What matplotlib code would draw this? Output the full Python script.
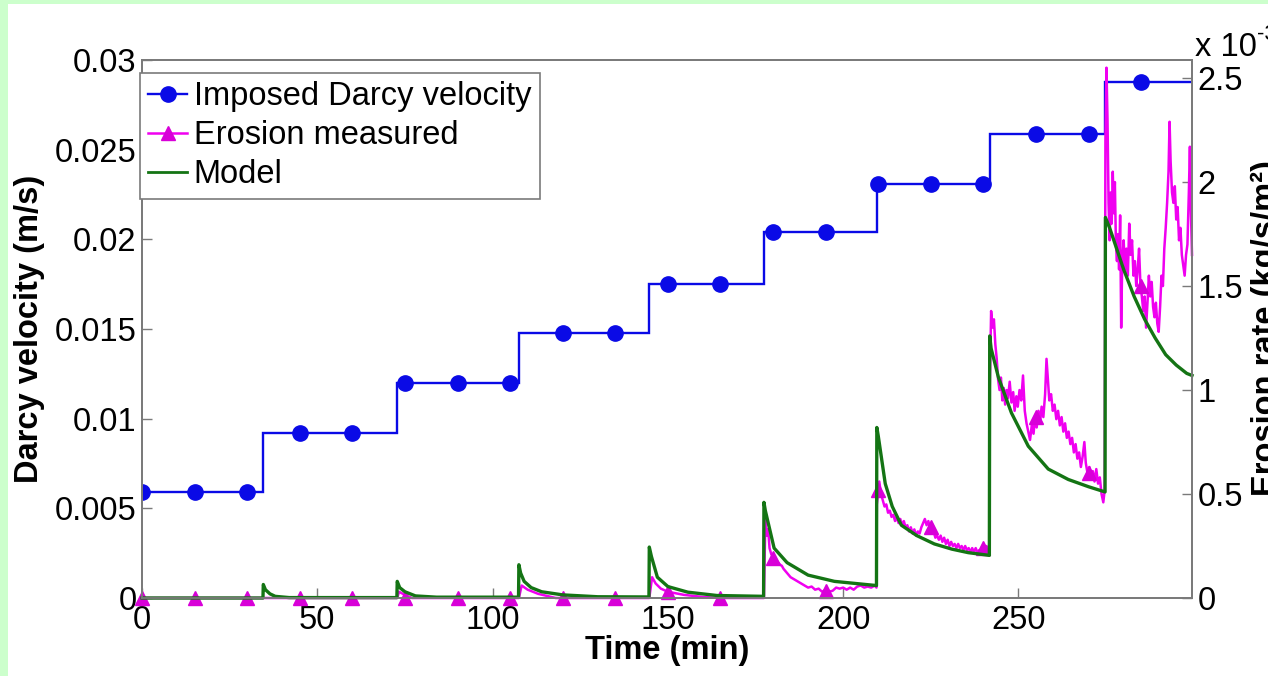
import matplotlib
matplotlib.use("Agg")
import matplotlib.pyplot as plt
from matplotlib.patches import Rectangle
from matplotlib.lines import Line2D

# ---------------- data ----------------
# imposed Darcy velocity: step start times (min) and plateau levels (m/s)
vel_step_t = [0, 34.6, 72.8, 107.5, 144.7, 177.4, 209.6, 241.8, 274.8]
vel_end_t = 299.5
vel_levels = [0.0059, 0.0092, 0.0120, 0.0148, 0.0175, 0.0204, 0.0231, 0.0259, 0.0288]

# marker times (every 15 min)
marker_t = [0, 15, 30, 45, 60, 75, 90, 105, 120, 135, 150, 165, 180, 195,
            210, 225, 240, 255, 270, 285]
vel_marker_v = [0.0059, 0.0059, 0.0059, 0.0092, 0.0092, 0.0120, 0.0120, 0.0120,
                0.0148, 0.0148, 0.0175, 0.0175, 0.0204, 0.0204, 0.0231, 0.0231,
                0.0231, 0.0259, 0.0259, 0.0288]

# erosion rate, model (x 1e-3 kg/s/m2)
model_t = [0, 34.5, 34.6, 35.2, 36.5, 38, 42, 72.7, 72.8, 73.5, 75, 78, 84,
           107.4, 107.5, 108, 109, 111, 114, 120, 130,
           144.6, 144.7, 145.3, 147, 150, 155.7, 164,
           177.3, 177.4, 177.8, 180.3, 184, 190, 197.5, 207,
           209.5, 209.6, 210, 212, 214, 216.6, 221, 226, 231, 235.7,
           241.7, 241.8, 242.2, 244.3, 248, 252.8, 258.5, 264.2, 270,
           274.7, 274.8, 276, 278, 280, 283, 286, 289, 292, 295, 298, 299.5]
model_v = [0, 0, 0.065, 0.04, 0.02, 0.008, 0.002, 0.002, 0.08, 0.05, 0.03, 0.01, 0.004,
           0.004, 0.16, 0.12, 0.08, 0.05, 0.03, 0.015, 0.006,
           0.005, 0.245, 0.20, 0.10, 0.055, 0.028, 0.012,
           0.008, 0.46, 0.42, 0.24, 0.17, 0.11, 0.08, 0.064,
           0.06, 0.82, 0.78, 0.55, 0.44, 0.35, 0.30, 0.26, 0.235, 0.218,
           0.205, 1.26, 1.20, 1.06, 0.89, 0.73, 0.62, 0.57, 0.535,
           0.51, 1.83, 1.78, 1.68, 1.58, 1.45, 1.34, 1.25, 1.17, 1.12, 1.08, 1.07]

# erosion rate, measured (x 1e-3 kg/s/m2)
meas_t = [0, 72.8, 73.3, 75, 77, 107.5, 108.3, 110, 113, 118,
          144.7, 145.5, 146.5, 148, 150, 154.6, 160, 165,
          177.4, 177.8, 178.2, 178.6, 179.0, 179.5, 180.0, 180.5, 181.0, 181.5, 182.0,
          182.5, 183.0, 183.5, 184.0, 185, 186, 187, 188, 189, 190, 191, 192, 193, 194,
          195, 196, 197, 198, 199, 200, 201, 202, 203, 204, 205, 206, 207, 208, 209, 209.5,
          209.6, 210.3, 210.8, 211.3, 211.8, 212.3, 212.8, 213.3, 213.8, 214.3, 214.8,
          215.3, 215.8, 216.3, 216.8, 217.3, 217.8, 218.3, 218.8, 219.3, 219.8, 220.3,
          220.8, 221.3, 221.8, 222.3, 222.8, 223.3, 223.8, 224.3, 224.8, 225.3, 225.8,
          226.3, 226.8, 227.3, 227.8, 228.3, 228.8, 229.3, 229.8, 230.3, 230.8, 231.3,
          231.8, 232.3, 232.8, 233.3, 233.8, 234.3, 234.8, 235.3, 235.8, 236.3, 236.8,
          237.3, 237.8, 238.3, 238.8, 239.3, 239.8, 240.3, 240.8, 241.3, 241.7,
          241.8, 242.2, 242.6, 243.0, 243.4, 243.8, 244.2, 244.6, 245.0, 245.4, 245.8,
          246.2, 246.6, 247.0, 247.5, 248.0, 248.5, 248.9, 249.4, 249.8, 250.3, 250.8,
          251.3, 251.8, 252.3, 252.8, 253.3, 253.8, 254.3, 254.7, 255.2, 255.7, 256.2,
          256.6, 257.1, 257.6, 258.0, 258.4, 258.8, 259.3, 259.8, 260.3, 260.8, 261.3,
          261.8, 262.3, 262.8, 263.3, 263.8, 264.3, 264.8, 265.3, 265.8, 266.3, 266.8,
          267.3, 267.8, 268.3, 268.8, 269.2, 269.7, 270.2, 270.7, 271.2, 271.7, 272.2,
          272.7, 273.2, 273.7, 274.2, 274.6,
          274.8, 275.1, 275.4, 275.7, 276.0, 276.3, 276.6, 276.9, 277.2, 277.5, 277.8,
          278.1, 278.4, 278.7, 279.0, 279.3, 279.6, 280.0, 280.4, 280.8, 281.2, 281.6,
          282.0, 282.4, 282.8, 283.2, 283.6, 284.0, 284.4, 284.8, 285.2, 285.6, 286.0,
          286.4, 286.8, 287.2, 287.6, 288.0, 288.4, 288.8, 289.2, 289.6, 290.0, 290.4,
          290.8, 291.2, 291.6, 292.0, 292.4, 292.8, 293.1, 293.4, 293.8, 294.2, 294.6,
          295.0, 295.4, 295.8, 296.2, 296.6, 297.0, 297.4, 297.8, 298.2, 298.6, 298.9,
          299.2, 299.5]
meas_v = [0, 0, 0.03, 0.015, 0, 0, 0.06, 0.04, 0.02, 0,
          0, 0.10, 0.07, 0.045, 0.03, 0.015, 0.005, 0,
          0, 0.38, 0.30, 0.33, 0.24, 0.21, 0.20, 0.19, 0.18, 0.17, 0.16,
          0.155, 0.14, 0.13, 0.12, 0.10, 0.09, 0.08, 0.07, 0.06, 0.05, 0.055, 0.04, 0.045, 0.03,
          0.04, 0.03, 0.035, 0.05, 0.045, 0.05, 0.04, 0.05, 0.04, 0.055, 0.06, 0.05, 0.055, 0.05, 0.06, 0.05,
          0.45, 0.56, 0.50, 0.47, 0.44, 0.45, 0.41, 0.42, 0.39, 0.40, 0.37,
          0.39, 0.36, 0.38, 0.35, 0.37, 0.34, 0.35, 0.32, 0.34, 0.31, 0.33,
          0.30, 0.32, 0.31, 0.34, 0.36, 0.38, 0.35, 0.37, 0.33, 0.31, 0.32,
          0.29, 0.30, 0.28, 0.30, 0.27, 0.29, 0.26, 0.28, 0.25, 0.27, 0.25,
          0.26, 0.24, 0.26, 0.24, 0.25, 0.23, 0.25, 0.23, 0.24, 0.22, 0.24,
          0.22, 0.24, 0.22, 0.23, 0.21, 0.24, 0.22, 0.25, 0.23, 0.26,
          1.00, 1.38, 1.30, 1.34, 1.22, 1.15, 1.05, 1.00, 1.06, 0.95, 1.01,
          0.93, 1.00, 0.96, 1.04, 0.94, 0.99, 0.90, 0.97, 0.92, 1.00, 0.95,
          1.07, 0.90, 0.84, 0.80, 0.76, 0.83, 0.79, 0.86, 0.82, 0.90, 0.85,
          0.92, 0.87, 0.98, 1.15, 1.05, 0.95, 0.98, 0.90, 0.93, 0.86, 0.90,
          0.83, 0.87, 0.80, 0.84, 0.77, 0.80, 0.74, 0.77, 0.70, 0.74, 0.67,
          0.70, 0.63, 0.68, 0.75, 0.65, 0.60, 0.63, 0.57, 0.61, 0.56, 0.62,
          0.55, 0.58, 0.50, 0.46, 0.52,
          2.20, 2.55, 2.30, 1.90, 1.72, 1.95, 1.80, 2.05, 1.85, 2.00, 1.70,
          1.62, 1.75, 1.58, 1.84, 1.30, 1.62, 1.72, 1.58, 1.68, 1.55, 1.80,
          1.65, 1.72, 1.55, 1.62, 1.50, 1.58, 1.68, 1.50, 1.45, 1.38, 1.45,
          1.30, 1.42, 1.55, 1.45, 1.52, 1.40, 1.35, 1.42, 1.32, 1.28, 1.40,
          1.55, 1.50, 1.68, 1.78, 1.90, 2.05, 2.29, 2.10, 1.95, 1.90, 1.98,
          1.82, 1.88, 1.72, 1.78, 1.65, 1.60, 1.55, 1.65, 1.70, 1.95, 2.17,
          1.85, 1.65]
meas_marker_v = [0, 0, 0, 0, 0, 0, 0, 0, 0, 0, 0.03, 0, 0.19, 0.035,
                 0.52, 0.34, 0.24, 0.87, 0.60, 1.50]

x_ticks = [0, 50, 100, 150, 200, 250]
vel_ticks = [0, 0.005, 0.01, 0.015, 0.02, 0.025, 0.03]
vel_tick_labels = ["0", "0.005", "0.01", "0.015", "0.02", "0.025", "0.03"]
ero_ticks = [0, 0.5, 1, 1.5, 2, 2.5]
ero_tick_labels = ["0", "0.5", "1", "1.5", "2", "2.5"]

# ---------------- style ----------------
plt.rcParams["font.family"] = ["Liberation Sans", "DejaVu Sans"]
FS = 23.5
BLUE = "#0a0ae6"
MAG = "#f000f0"
MAG_MK = "#d800d8"
GREEN = "#147414"
FRAME = "#7a7a7a"

W, H = 1268, 676
fig = plt.figure(figsize=(W / 100, H / 100), dpi=100, facecolor="white")
fig.add_artist(Rectangle((0, 0), 8 / W, 1, transform=fig.transFigure,
                         facecolor="#ccffcc", edgecolor="none", zorder=-10))
fig.add_artist(Rectangle((0, 1 - 4 / H), 1, 4 / H, transform=fig.transFigure,
                         facecolor="#ccffcc", edgecolor="none", zorder=-10))

ax = fig.add_axes([142 / W, 1 - 598 / H, 1050 / W, 538 / H])
ax2 = ax.twinx()

# velocity (left axis)
vel_edges = vel_step_t + [vel_end_t]
ax.stairs(vel_levels, vel_edges, baseline=None, color=BLUE, lw=1.7)
ax.plot(marker_t, vel_marker_v, "o", ms=11, color=BLUE, mec=BLUE, ls="none")

# erosion (right axis)
ax2.plot(meas_t, meas_v, color=MAG, lw=1.8, clip_on=False)
ax2.plot(marker_t, meas_marker_v, "^", ms=10, color=MAG_MK, mec=MAG_MK,
         ls="none", clip_on=False)
ax2.plot(model_t, model_v, color=GREEN, lw=2.4, clip_on=False)

ax.set_xlim(0, 299.5)
ax.set_ylim(0, 0.03)
ax2.set_ylim(0, 2.587)
ax.set_xticks(x_ticks)
ax.set_xticklabels([str(t) for t in x_ticks])
ax.set_yticks(vel_ticks)
ax.set_yticklabels(vel_tick_labels)
ax2.set_yticks(ero_ticks)
ax2.set_yticklabels(ero_tick_labels)

for a in (ax, ax2):
    for s in a.spines.values():
        s.set_color(FRAME)
        s.set_linewidth(1.3)
    a.tick_params(direction="in", length=7, width=1, color=FRAME,
                  labelsize=FS, labelcolor="black", pad=4)
ax.tick_params(axis="x", pad=5)

fig.text(667 / W, 1 - 650 / H, "Time (min)", ha="center", va="center",
         fontsize=FS, fontweight="bold")
fig.text(30 / W, 1 - 329 / H, "Darcy velocity (m/s)", ha="center", va="center",
         rotation=90, fontsize=FS, fontweight="bold")
fig.text(1266 / W, 1 - 328 / H, "Erosion rate (kg/s/m²)", ha="center", va="center",
         rotation=90, fontsize=FS, fontweight="bold")
fig.text(1195 / W, 1 - 56 / H, "x 10", ha="left", va="baseline", fontsize=FS)
fig.text(1257 / W, 1 - 40 / H, "-3", ha="left", va="baseline", fontsize=16)

handles = [
    Line2D([], [], color=BLUE, lw=1.7, marker="o", ms=11),
    Line2D([], [], color=MAG, lw=1.8, marker="^", ms=10, mfc=MAG_MK, mec=MAG_MK),
    Line2D([], [], color=GREEN, lw=2.0),
]
labels = ["Imposed Darcy velocity", "Erosion measured", "Model"]
leg = ax2.legend(handles, labels, loc="upper left",
                 bbox_to_anchor=(140 / W, 1 - 73 / H), bbox_transform=fig.transFigure,
                 fontsize=FS, frameon=True, fancybox=False, framealpha=1,
                 edgecolor=FRAME, borderaxespad=0, borderpad=0.25,
                 handlelength=1.2, handletextpad=0.2, labelspacing=0.25)
leg.get_frame().set_linewidth(1.2)

fig.savefig("out.png", dpi=100, facecolor=fig.get_facecolor())
